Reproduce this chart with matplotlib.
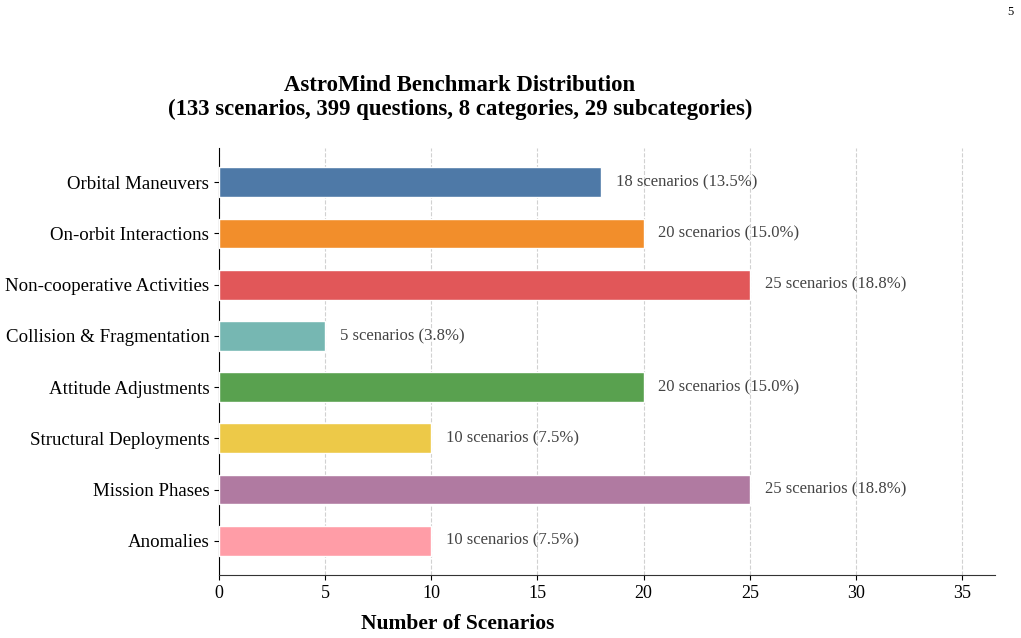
import matplotlib.pyplot as plt

categories = ['Orbital Maneuvers', 'On-orbit Interactions', 'Non-cooperative Activities',
              'Collision & Fragmentation', 'Attitude Adjustments', 'Structural Deployments',
              'Mission Phases', 'Anomalies']
scenarios = [18, 20, 25, 5, 20, 10, 25, 10]
colors = ['#4E79A7', '#F28E2B', '#E15759', '#76B7B2', '#59A14F', '#EDC948', '#B07AA1', '#FF9DA7']
total_scenarios = 133

plt.rcParams['font.family'] = ['Liberation Serif', 'DejaVu Serif']

fig = plt.figure(figsize=(10.21, 6.38), dpi=100)
ax = fig.add_axes([219 / 1021, 1 - 575 / 638, (995 - 219) / 1021, (575 - 148) / 638])

ypos = list(range(len(categories)))[::-1]
ax.barh(ypos, scenarios, height=0.58, color=colors, edgecolor='white', linewidth=1, zorder=3)

for y, v in zip(ypos, scenarios):
    ax.text(v + 0.7, y, f'{v} scenarios ({v / total_scenarios * 100:.1f}%)',
            va='center', ha='left', fontsize=12, color='#444444')

ax.set_yticks(ypos)
ax.set_yticklabels(categories, fontsize=13.6)
ax.set_xlim(0, 36.55)
ax.set_xticks([0, 5, 10, 15, 20, 25, 30, 35])
ax.tick_params(axis='x', labelsize=13)
ax.grid(axis='x', linestyle='--', color='#cccccc', alpha=0.9, zorder=0)
ax.spines['top'].set_visible(False)
ax.spines['right'].set_visible(False)
ax.spines['bottom'].set_color('#333333')

fig.text(460 / 1021, 1 - 97.5 / 638,
         'AstroMind Benchmark Distribution\n(133 scenarios, 399 questions, 8 categories, 29 subcategories)',
         ha='center', va='center', fontsize=16.4, fontweight='bold', linespacing=1.18)
fig.text(458 / 1021, 1 - 624 / 638, 'Number of Scenarios', ha='center', va='center',
         fontsize=15.5, fontweight='bold')
fig.text(1010 / 1021, 1 - 12 / 638, '5', ha='center', va='center', fontsize=9)

fig.savefig('out.png', dpi=100)
